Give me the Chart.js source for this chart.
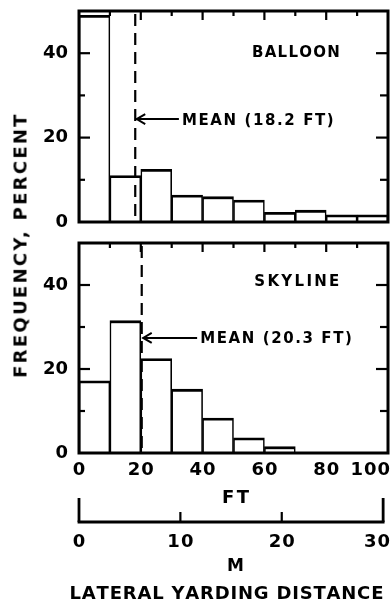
<!DOCTYPE html>
<html><head><meta charset="utf-8">
<script src="https://cdn.jsdelivr.net/npm/chart.js@4.4.1/dist/chart.umd.min.js"></script>
<style>
html,body{margin:0;padding:0;background:#fff;}
body{width:391px;height:603px;position:relative;overflow:hidden;}
canvas{position:absolute;left:0;}
#c1{top:0;}
#c2{top:232px;}
#ytitle{position:absolute;left:20px;top:245px;transform:translate(-50%,-50%) rotate(-90deg);font:bold 18px "DejaVu Sans";letter-spacing:2.3px;white-space:nowrap;color:#000;}
</style></head>
<body>
<canvas id="c1" width="391" height="232"></canvas>
<canvas id="c2" width="391" height="371"></canvas>
<div id="ytitle">FREQUENCY, PERCENT</div>
<script>
// ---- data ----
const binEdgesFt = [0, 10, 20, 30, 40, 50, 60, 70, 80, 90, 100];
const balloonPct = [49, 11, 12.5, 6.4, 6.0, 5.2, 2.3, 2.8, 1.7, 1.7];
const skylinePct = [17.2, 31.5, 22.5, 15.2, 8.3, 3.6, 1.5, 0, 0, 0];
const meanBalloonFt = 18.2;
const meanSkylineFt = 20.3;
const yMinorTicks = [10, 30];
const yMajorTicks = [20, 40];
const topTicksFt = [10, 20, 30, 40, 50, 60, 70, 80, 90];
const ftTickLabels = ['0', '20', '40', '60', '80', '100'];
const mTickLabels = ['0', '10', '20', '30'];
const FT_PER_M = 3.28084;

const FONT = '"DejaVu Sans"';

function measureSpaced(ctx, text, size, spacing) {
  ctx.font = 'bold ' + size + 'px ' + FONT;
  const chars = Array.from(text);
  return chars.reduce((s, c) => s + ctx.measureText(c).width, 0) + spacing * (chars.length - 1);
}
function drawSpaced(ctx, text, x, yc, size, spacing, align) {
  ctx.font = 'bold ' + size + 'px ' + FONT;
  ctx.textAlign = 'left';
  ctx.textBaseline = 'alphabetic';
  const chars = Array.from(text);
  const ws = chars.map(c => ctx.measureText(c).width);
  const total = ws.reduce((s, w) => s + w, 0) + spacing * (chars.length - 1);
  let sx = align === 'center' ? x - total / 2 : (align === 'right' ? x - total : x);
  const by = yc + size * 0.365;
  chars.forEach((c, i) => { ctx.fillText(c, sx, by); sx += ws[i] + spacing; });
  return total;
}
function seg(ctx, x1, y1, x2, y2) { ctx.beginPath(); ctx.moveTo(x1, y1); ctx.lineTo(x2, y2); ctx.stroke(); }

function binData(vals) {
  return vals.map((v, i) => ({ x: (binEdgesFt[i] + binEdgesFt[i + 1]) / 2, y: v }));
}

function panelPlugin(cfg) {
  return {
    id: 'panel' + cfg.name,
    afterDatasetsDraw(chart) {
      const ctx = chart.ctx, a = chart.chartArea;
      const x = chart.scales.x, y = chart.scales.y;
      ctx.save();
      ctx.strokeStyle = '#000';
      ctx.fillStyle = '#000';
      ctx.lineCap = 'butt';
      // mean dashed line
      const mx = x.getPixelForValue(cfg.mean);
      ctx.lineWidth = 2.2;
      ctx.setLineDash([12, 7]);
      seg(ctx, mx, a.top + 3, mx, a.bottom);
      ctx.setLineDash([]);
      // frame
      ctx.lineWidth = 3;
      ctx.strokeRect(a.left, a.top, a.right - a.left, a.bottom - a.top);
      // inward ticks
      ctx.lineWidth = 2.2;
      yMajorTicks.forEach(v => { const py = y.getPixelForValue(v); seg(ctx, a.left, py, a.left + 11, py); seg(ctx, a.right, py, a.right - 12, py); });
      yMinorTicks.forEach(v => { const py = y.getPixelForValue(v); seg(ctx, a.left, py, a.left + 6, py); seg(ctx, a.right, py, a.right - 8, py); });
      topTicksFt.forEach(v => { const px = x.getPixelForValue(v); seg(ctx, px, a.top, px, a.top + (v % 20 === 0 ? 9 : 5)); });
      // mean arrow + label
      const ay = y.getPixelForValue(cfg.arrowPct);
      const tx = x.getPixelForValue(cfg.labelFt);
      ctx.lineWidth = 2;
      seg(ctx, mx + 1, ay, tx - 3, ay);
      ctx.beginPath();
      ctx.moveTo(mx + 10, ay - 5); ctx.lineTo(mx + 1.5, ay); ctx.lineTo(mx + 10, ay + 5);
      ctx.stroke();
      drawSpaced(ctx, cfg.meanText, tx, ay, 15, 1.6, 'left');
      // panel name
      drawSpaced(ctx, cfg.name, x.getPixelForValue(cfg.nameFt), y.getPixelForValue(cfg.namePct), 15, cfg.nameSpacing, 'center');

      if (cfg.bottomAxes) {
        const b = a.bottom;
        const W = chart.width;
        ftTickLabels.forEach(lbl => {
          let px = x.getPixelForValue(Number(lbl));
          const w = measureSpaced(ctx, lbl, 18, 1);
          px = Math.min(px, W - 1 - w / 2);
          drawSpaced(ctx, lbl, px, b + 15, 18, 1, 'center');
        });
        const cx = (a.left + a.right) / 2;
        drawSpaced(ctx, 'FT', cx + 2, b + 43, 18, 2.5, 'center');
        // metre bracket axis, placed through the foot scale (1 m = 3.28084 ft)
        const mpx = m => x.getPixelForValue(m * FT_PER_M);
        const ly = b + 69;
        ctx.lineWidth = 2.8;
        const m0 = mpx(0), m1 = mpx(Number(mTickLabels[mTickLabels.length - 1]));
        seg(ctx, m0 - 1.4, ly, m1 + 1.4, ly);
        mTickLabels.forEach((lbl, i) => {
          const px = mpx(Number(lbl));
          const end = (i === 0 || i === mTickLabels.length - 1);
          ctx.lineWidth = end ? 2.8 : 2.2;
          seg(ctx, px, ly, px, ly - (end ? 24 : 10));
          const w = measureSpaced(ctx, lbl, 18, 1);
          const lx = Math.min(px, W - 1 - w / 2);
          drawSpaced(ctx, lbl, lx, b + 87, 18, 1, 'center');
        });
        drawSpaced(ctx, 'M', cx + 2, b + 112, 17, 0, 'center');
        drawSpaced(ctx, 'LATERAL YARDING DISTANCE', cx - 7, b + 139, 18, 0.8, 'center');
      }
      ctx.restore();
    }
  };
}

function makeChart(id, values, cfg, bottomPad) {
  const scales = {
    x: {
      type: 'linear', min: binEdgesFt[0], max: binEdgesFt[binEdgesFt.length - 1],
      offset: false, display: false,
      ticks: { stepSize: 10 },
      grid: { display: false, offset: false }
    },
    y: {
      type: 'linear', min: 0, max: 50,
      ticks: { stepSize: 20, includeBounds: false, padding: 11, color: '#000',
               font: { family: 'DejaVu Sans', size: 18, weight: 'bold' } },
      grid: { display: false, drawTicks: false },
      border: { display: false },
      afterFit: s => { s.width = 79; s.paddingTop = 0; s.paddingBottom = 0; }
    }
  };
  return new Chart(document.getElementById(id), {
    type: 'bar',
    data: {
      datasets: [{
        label: cfg.name,
        data: binData(values),
        backgroundColor: '#fff',
        borderColor: '#000',
        borderWidth: { top: 2.8, left: 1.6, right: 1.6, bottom: 0 },
        borderSkipped: 'start',
        barPercentage: 1.0,
        categoryPercentage: 1.0
      }]
    },
    options: {
      responsive: false,
      devicePixelRatio: 1,
      animation: false,
      layout: { padding: { left: 0, right: 3, top: 11, bottom: bottomPad } },
      plugins: { legend: { display: false }, tooltip: { enabled: false }, title: { display: false } },
      scales
    },
    plugins: [panelPlugin(cfg)]
  });
}

makeChart('c1', balloonPct, {
  name: 'BALLOON', mean: meanBalloonFt, arrowPct: 24.4, labelFt: 33.3,
  meanText: 'MEAN (18.2 FT)', nameFt: 70.2, namePct: 40.5, nameSpacing: 1.3, bottomAxes: false
}, 10);
makeChart('c2', skylinePct, {
  name: 'SKYLINE', mean: meanSkylineFt, arrowPct: 27.4, labelFt: 39.2,
  meanText: 'MEAN (20.3 FT)', nameFt: 70.5, namePct: 41, nameSpacing: 2.3, bottomAxes: true
}, 150);
</script>
</body></html>
